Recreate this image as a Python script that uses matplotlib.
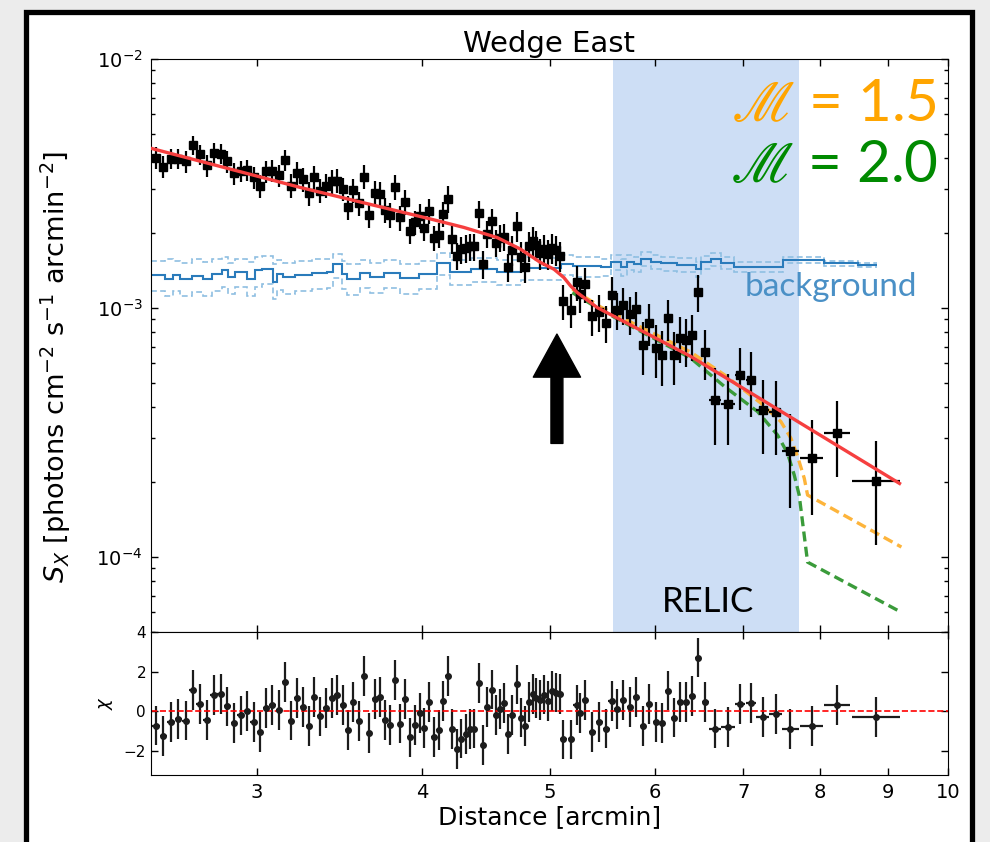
import matplotlib
matplotlib.use("Agg")
import matplotlib.pyplot as plt
from matplotlib.patches import Rectangle
from matplotlib.ticker import FixedLocator, FixedFormatter, NullLocator
import numpy as np

# ---- surface brightness profile (Wedge East) ----
distance = [
    2.517, 2.550, 2.583, 2.617, 2.650, 2.683, 2.717, 2.750, 2.783, 2.817,
    2.850, 2.883, 2.917, 2.950, 2.983, 3.017, 3.050, 3.083, 3.117, 3.150,
    3.183, 3.217, 3.250, 3.283, 3.317, 3.350, 3.383, 3.417, 3.450, 3.483,
    3.517, 3.550, 3.583, 3.617, 3.650, 3.683, 3.717, 3.750, 3.783, 3.817,
    3.850, 3.883, 3.917, 3.950, 3.983, 4.017, 4.050, 4.083, 4.117, 4.150,
    4.183, 4.217, 4.250, 4.283, 4.317, 4.350, 4.383, 4.417, 4.450, 4.483,
    4.517, 4.550, 4.583, 4.617, 4.650, 4.683, 4.717, 4.750, 4.783, 4.817,
    4.850, 4.883, 4.917, 4.950, 4.983, 5.017, 5.050, 5.083, 5.117, 5.185,
    5.237, 5.267, 5.315, 5.382, 5.449, 5.516, 5.565, 5.616, 5.677, 5.746,
    5.811, 5.876, 5.940, 6.008, 6.075, 6.138, 6.205, 6.270, 6.337, 6.404,
    6.468, 6.550, 6.664, 6.816, 6.963, 7.095, 7.239, 7.407, 7.598, 7.885,
    8.241, 8.823,
]
distance_err = [0.0167] * 78 + [0.03] * 23 + [
    0.04, 0.07, 0.08, 0.06, 0.06, 0.08, 0.08, 0.11, 0.16, 0.19, 0.37,
]
# S_X in units of 1e-3 photons cm^-2 s^-1 arcmin^-2
sx_e3 = [
    4.02, 3.70, 3.98, 3.98, 3.89, 4.51, 4.14, 3.74, 4.19, 4.17,
    3.88, 3.48, 3.55, 3.59, 3.35, 3.10, 3.54, 3.56, 3.41, 3.92,
    3.10, 3.48, 3.29, 2.89, 3.35, 2.96, 3.10, 3.23, 3.25, 3.01,
    2.54, 2.98, 2.63, 3.37, 2.37, 2.89, 2.87, 2.48, 2.37, 3.06,
    2.31, 2.66, 2.04, 2.21, 2.35, 2.10, 2.45, 1.91, 1.97, 2.39,
    2.74, 1.89, 1.62, 1.72, 1.74, 1.77, 1.77, 2.40, 1.50, 1.99,
    2.23, 1.83, 1.91, 1.93, 1.46, 1.71, 2.14, 1.61, 1.46, 1.78,
    1.86, 1.79, 1.66, 1.72, 1.65, 1.74, 1.71, 1.62, 1.07, 0.986,
    1.27, 1.14, 1.25, 0.926, 0.964, 0.870, 1.13, 0.979, 1.028, 0.943,
    0.994, 0.708, 0.870, 0.688, 0.646, 0.909, 0.646, 0.759, 0.741, 0.778,
    1.157, 0.666, 0.428, 0.413, 0.540, 0.514, 0.388, 0.383, 0.266, 0.251,
    0.316, 0.202,
]
# fractional 1-sigma error of each point
sx_relerr = (
    [0.10, 0.10, 0.095, 0.095, 0.10, 0.09, 0.095, 0.10, 0.095, 0.095,
     0.10, 0.10, 0.10, 0.10, 0.10, 0.105, 0.10, 0.10, 0.10, 0.095]
    + [0.11] * 14 + [0.115] * 16 + [0.125] * 15 + [0.14] * 13
    + [0.16, 0.16, 0.16, 0.16, 0.16, 0.165, 0.17, 0.17, 0.18, 0.17,
       0.17, 0.17, 0.17]
    + [0.24, 0.19, 0.24, 0.25, 0.19, 0.24, 0.21, 0.22, 0.21]
    + [0.17, 0.23, 0.34, 0.32, 0.28, 0.29, 0.33, 0.33, 0.41, 0.41,
       0.335, 0.445]
)
chi = [
    -0.71, -1.25, -0.54, -0.37, -0.46, 1.07, 0.36, -0.44, 0.81, 0.88,
    0.25, -0.58, -0.20, 0.03, -0.54, -1.03, 0.17, 0.34, 0.07, 1.49,
    -0.46, 0.69, 0.22, -0.73, 0.73, -0.25, 0.19, 0.66, 0.81, 0.32,
    -0.93, 0.47, -0.47, 1.78, -1.07, 0.64, 0.73, -0.42, -0.69, 1.58,
    -0.61, 0.63, -1.31, -0.68, -0.08, -0.83, 0.47, -1.27, -0.95, 0.54,
    1.78, -0.88, -1.90, -1.37, -1.14, -0.90, -0.86, 1.44, -1.68, 0.22,
    1.10, -0.17, 0.12, 0.41, -1.14, -0.17, 1.36, -0.31, -0.73, 0.49,
    0.86, 0.69, 0.59, 0.85, 0.54, 1.03, 0.95, 0.86, -1.41, -1.41,
    0.31, -0.08, 0.56, -1.02, -0.54, -0.86, 0.54, 0.12, 0.58, 0.22,
    0.71, -0.73, 0.37, -0.53, -0.59, 1.05, -0.31, 0.49, 0.46, 0.76,
    2.71, 0.49, -0.86, -0.80, 0.37, 0.41, -0.29, -0.14, -0.90, -0.75,
    0.32, -0.29,
]

# ---- best-fit model and Mach-number models ----
model_x = [2.495, 3.236, 4.059, 4.303, 4.559, 4.749, 4.918, 5.034, 5.122,
           5.182, 5.243, 5.430, 6.386, 9.19]
model_y = [4.38e-3, 3.05e-3, 2.279e-3, 2.107e-3, 1.920e-3, 1.724e-3,
           1.523e-3, 1.432e-3, 1.325e-3, 1.227e-3, 1.153e-3, 1.003e-3,
           6.40e-4, 1.975e-4]
mach15_x = [5.198, 5.461, 6.386, 6.771, 7.218, 7.474, 7.606, 7.696, 7.785,
            7.830, 9.22]
mach15_y = [1.19e-3, 1.009e-3, 6.66e-4, 5.40e-4, 4.15e-4, 3.50e-4, 3.00e-4,
            2.53e-4, 2.07e-4, 1.774e-4, 1.097e-4]
mach20_x = [5.198, 5.461, 6.386, 6.771, 7.176, 7.431, 7.562, 7.650, 7.716,
            7.830, 9.165]
mach20_y = [1.153e-3, 9.82e-4, 6.30e-4, 4.85e-4, 3.84e-4, 3.09e-4, 2.61e-4,
            2.135e-4, 1.774e-4, 9.54e-5, 6.10e-5]

# ---- background level (1e-3 units) and its uncertainty band ----
bg_edges = [2.495, 2.557, 2.593, 2.625, 2.680, 2.732, 2.775, 2.824, 2.853,
            2.889, 2.950, 2.991, 3.028, 3.087, 3.109, 3.141, 3.207, 3.303,
            3.392, 3.428, 3.481, 3.512, 3.593, 3.655, 3.742, 3.852, 3.976,
            4.107, 4.203, 4.353, 4.559, 4.749, 5.004, 5.093, 5.205, 5.461,
            5.557, 5.654, 5.721, 5.786, 5.855, 5.958, 6.063, 6.242, 6.445,
            6.502, 6.617, 6.733, 6.889, 7.498, 8.059, 8.543, 8.835]
bg_level = [1.36, 1.31, 1.36, 1.31, 1.35, 1.31, 1.37, 1.42, 1.33, 1.40,
            1.31, 1.42, 1.44, 1.27, 1.37, 1.33, 1.36, 1.38, 1.39, 1.50,
            1.37, 1.31, 1.38, 1.33, 1.38, 1.32, 1.37, 1.52, 1.40, 1.43,
            1.40, 1.45, 1.45, 1.50, 1.47, 1.46, 1.53, 1.46, 1.53, 1.50,
            1.58, 1.53, 1.51, 1.49, 1.43, 1.53, 1.57, 1.52, 1.46, 1.56,
            1.51, 1.49]
bg_hi = [1.55, 1.58, 1.55, 1.52, 1.57, 1.53, 1.58, 1.60, 1.52, 1.58,
         1.53, 1.60, 1.62, 1.50, 1.56, 1.52, 1.55, 1.57, 1.58, 1.65,
         1.55, 1.50, 1.56, 1.52, 1.56, 1.50, 1.55, 1.66, 1.56, 1.59,
         1.56, 1.60, 1.59, 1.63, 1.60, 1.58, 1.64, 1.57, 1.64, 1.61,
         1.68, 1.63, 1.61, 1.59, 1.53, 1.62, 1.66, 1.60, 1.53, 1.60,
         1.54, 1.52]
bg_lo = [1.17, 1.12, 1.17, 1.12, 1.16, 1.12, 1.17, 1.22, 1.14, 1.21,
         1.12, 1.22, 1.25, 1.09, 1.18, 1.14, 1.17, 1.19, 1.20, 1.32,
         1.19, 1.13, 1.20, 1.15, 1.20, 1.14, 1.19, 1.36, 1.24, 1.27,
         1.24, 1.30, 1.30, 1.36, 1.33, 1.34, 1.42, 1.35, 1.42, 1.39,
         1.48, 1.43, 1.41, 1.39, 1.33, 1.44, 1.48, 1.44, 1.39, 1.52,
         1.48, 1.46]

relic_range = (5.58, 7.71)
shock_x = 5.06
arrow_tip, arrow_tail = 7.86e-4, 2.86e-4
xtick_vals = [3, 4, 5, 6, 7, 8, 9, 10]


def style_axis(axis):
    axis.tick_params(which="both", direction="in", top=True, right=True,
                     width=1)
    axis.tick_params(which="major", length=5)
    axis.tick_params(which="minor", length=3)


def main():
    sx = np.array(sx_e3) * 1e-3
    sx_err = sx * np.array(sx_relerr)

    fig = plt.figure(figsize=(9.9, 8.42), dpi=100, facecolor="#ececec")
    fig.patches.append(Rectangle((0.0258, -0.05), 0.9565, 1.0363,
                                 transform=fig.transFigure, facecolor="white",
                                 edgecolor="black", linewidth=3.8, zorder=-1))

    ax = fig.add_axes([0.1525, 0.2494, 0.8051, 0.6805])
    rax = fig.add_axes([0.1525, 0.0796, 0.8051, 0.1698], sharex=ax)

    ax.axvspan(*relic_range, color="#cddef5", lw=0, zorder=0)
    ax.stairs(np.array(bg_hi) * 1e-3, bg_edges, color="#8fbfe2", lw=1.2,
              ls=(0, (3.5, 2)), baseline=None)
    ax.stairs(np.array(bg_lo) * 1e-3, bg_edges, color="#8fbfe2", lw=1.2,
              ls=(0, (3.5, 2)), baseline=None)
    ax.stairs(np.array(bg_level) * 1e-3, bg_edges, color="#2a7bbb", lw=1.5,
              baseline=None)

    ax.plot(mach15_x, mach15_y, color="#fdb43b", lw=2.4, ls=(0, (3, 1.6)))
    ax.plot(mach20_x, mach20_y, color="#3a9b3a", lw=2.4, ls=(0, (3, 1.6)))
    ax.errorbar(distance, sx, xerr=distance_err, yerr=sx_err, fmt="s",
                color="black", ms=6, elinewidth=1.6, capsize=0, zorder=3)
    ax.plot(model_x, model_y, color="#f63f3f", lw=2.4, zorder=4)

    ax.annotate("", xy=(shock_x, arrow_tip), xytext=(shock_x, arrow_tail),
                arrowprops=dict(facecolor="black", edgecolor="black",
                                width=8.6, headwidth=34, headlength=31))

    ax.text(0.699, 0.035, "RELIC", transform=ax.transAxes, ha="center",
            va="baseline", fontsize=25, family="Lato")
    ax.text(0.986, 0.892, r"$\mathscr{M}$ = 1.5", transform=ax.transAxes,
            ha="right", va="baseline", fontsize=42, family="Lato",
            math_fontfamily="stix", color="#ffa500")
    ax.text(0.987, 0.786, r"$\mathscr{M}$ = 2.0", transform=ax.transAxes,
            ha="right", va="baseline", fontsize=42, family="Lato",
            math_fontfamily="stix", color="#008a00")
    ax.text(0.961, 0.586, "background", transform=ax.transAxes, ha="right",
            va="baseline", fontsize=24, family="Lato", color="#4a90c6")

    ax.set_xscale("log")
    ax.set_yscale("log")
    ax.set_xlim(2.495, 10)
    ax.set_ylim(5e-5, 1e-2)
    ax.set_title("Wedge East", fontsize=21, pad=5)
    ax.set_ylabel(r"$S_X$ [photons cm$^{-2}$ s$^{-1}$ arcmin$^{-2}$]",
                  fontsize=19.5)
    ax.yaxis.set_label_coords(-0.098, 0.463)
    ax.tick_params(axis="y", labelsize=14, pad=6)
    style_axis(ax)
    ax.tick_params(axis="x", labelbottom=False)

    rax.errorbar(distance, chi, xerr=distance_err, yerr=1, fmt="o",
                 color="#1c1c1c", ms=4, elinewidth=1.6, capsize=0)
    rax.axhline(0, color="red", ls="--", lw=1.2)
    rax.set_ylim(-3.2, 4)
    rax.set_yticks([-2, 0, 2, 4])
    rax.set_ylabel(r"$\chi$", fontsize=13, labelpad=6)
    rax.set_xlabel("Distance [arcmin]", fontsize=18, labelpad=2)
    rax.tick_params(axis="y", labelsize=11)
    rax.tick_params(axis="x", labelsize=14, pad=6)
    style_axis(rax)

    rax.xaxis.set_major_locator(FixedLocator(xtick_vals))
    rax.xaxis.set_major_formatter(FixedFormatter([str(v) for v in xtick_vals]))
    rax.xaxis.set_minor_locator(NullLocator())

    fig.savefig("out.png", dpi=100, facecolor=fig.get_facecolor())


if __name__ == "__main__":
    main()
